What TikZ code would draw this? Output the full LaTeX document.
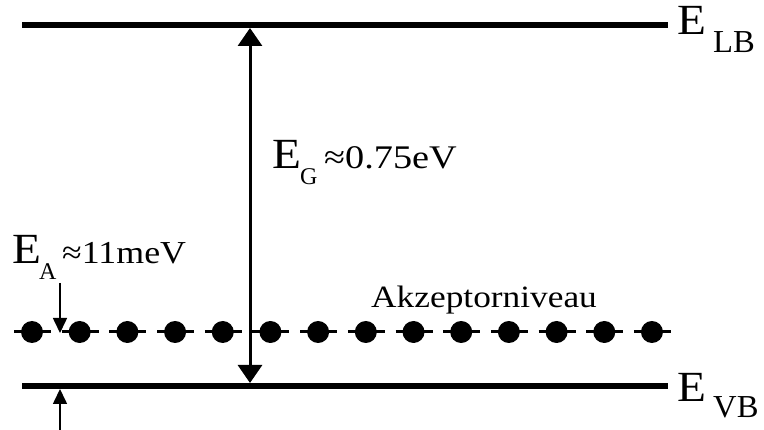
\documentclass[tikz,border=0pt]{standalone}
\usepackage{graphicx}
\usepackage{fontspec}
\setmainfont{Liberation Serif}
\usetikzlibrary{arrows.meta}
\newcommand{\fsz}[1]{\fontsize{#1}{#1}\selectfont}
\newcommand{\wide}[2]{\scalebox{#1}[1]{#2}}
\tikzset{
  band/.style={line width=6pt},
  lbl/.style={inner sep=0pt, anchor=base west},
  bigE/.style={lbl, font=\fsz{43}},
  bigsub/.style={lbl, font=\fsz{32}},
  smallsub/.style={lbl, font=\fsz{24}},
  val/.style={lbl, font=\fsz{33}},
  gaparrow/.style={line width=3pt, {Triangle[length=18pt,width=24pt]}-{Triangle[length=18pt,width=24pt]}},
  smallarrow/.style={line width=1.6pt, -{Triangle[length=15pt,width=14pt]}},
  dot/.style={circle, fill=black, minimum size=22pt, inner sep=0pt},
  dashseg/.style={line width=3pt}
}
\begin{document}
\begin{tikzpicture}[x=1pt,y=-1pt]
\useasboundingbox (0,0) rectangle (764,430);
% bands
\coordinate (lbL) at (22,25);
\coordinate (lbR) at (668,25);
\coordinate (vbL) at (22,386);
\coordinate (vbR) at (668,386);
\draw[band] (lbL) -- (lbR);
\draw[band] (vbL) -- (vbR);
% labels of bands
\node[bigE] (elb) at (677,35) {\wide{1.1}{E}};
\node[bigsub] (elbs) at (713,53) {\wide{1.02}{LB}};
\node[bigE] (evb) at (677,402) {\wide{1.1}{E}};
\node[bigsub] (evbs) at (713,418) {\wide{1.02}{VB}};
% acceptor level
\foreach \i in {0,...,13}{
  \pgfmathsetmacro{\xx}{32+47.69*\i}
  \draw[dashseg] (\xx-18,332) -- (\xx+19,332);
  \node[dot] (d\i) at (\xx,332) {};
}
\node[lbl, font=\fsz{31}] (akz) at (371,308) {\wide{1.14}{Akzeptorniveau}};
% gap arrow
\coordinate (gtop) at (250,28);
\coordinate (gbot) at (250,383);
\draw[gaparrow] (gbot) -- (gtop);
\node[bigE] (eg) at (272,169) {\wide{1.1}{E}};
\node[smallsub] (egs) at (300,185) {\wide{1.0}{G}};
\node[val] (egv) at (324,169) {\wide{1.16}{≈0.75eV}};
% acceptor energy
\node[bigE] (ea) at (12,264) {\wide{1.1}{E}};
\node[smallsub] (eas) at (39,280) {\wide{1.0}{A}};
\node[val, font=\fsz{32}] (eav) at (62,264) {\wide{1.12}{≈11meV}};
\coordinate (a1s) at (60,283);
\coordinate (a1e) at (60,333);
\coordinate (a2s) at (60,430);
\coordinate (a2e) at (60,389);
\draw[smallarrow] (a1s) -- (a1e);
\draw[smallarrow] (a2s) -- (a2e);
\end{tikzpicture}
\end{document}
